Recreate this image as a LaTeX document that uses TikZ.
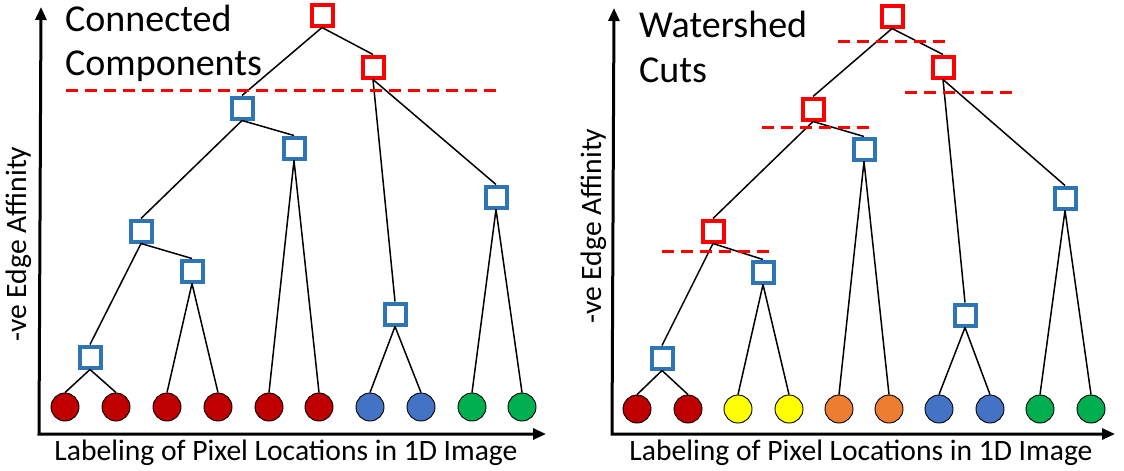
\documentclass[tikz,border=0pt]{standalone}
\usepackage{fontspec}
\setmainfont{Carlito}
\usetikzlibrary{arrows.meta}
\definecolor{cutred}{HTML}{FF0000}
\definecolor{nodeblue}{HTML}{2E75B6}
\definecolor{pixred}{HTML}{C00000}
\definecolor{pixblue}{HTML}{4472C4}
\definecolor{pixgreen}{HTML}{00B050}
\definecolor{pixyellow}{HTML}{FFFF00}
\definecolor{pixorange}{HTML}{ED7D31}
\tikzset{
  merge/.style={draw=#1, line width=4pt, fill=white, minimum size=21pt, inner sep=0pt, outer sep=2pt},
  pixel/.style={circle, draw=black, line width=0.9pt, fill=#1, minimum size=28pt, inner sep=0pt},
  link/.style={line width=1.5pt},
  cut/.style={cutred, line width=3pt, dash pattern=on 12pt off 7pt},
  axis/.style={line width=3pt, {Triangle[length=13pt,width=11pt]}-{Triangle[length=13pt,width=11pt]}},
  title/.style={font=\fontsize{38}{44}\selectfont, anchor=base west, inner sep=0pt},
  axlabel/.style={font=\fontsize{29.6}{35}\selectfont, anchor=base, inner sep=0pt}
}
\begin{document}
\begin{tikzpicture}[x=1pt,y=-1pt]
 	\useasboundingbox (0,0) rectangle (1124,471);
 	% connected components
 	\coordinate (oL) at (39,434);
 	\coordinate (yL) at (41,7);
 	\coordinate (xL) at (546,434);
 	\draw[axis] (yL) -- (oL) -- (xL);
 	\node[title] (tL1) at (65,31) {Connected};
 	\node[title] (tL2) at (65,75) {Components};
 	\node[axlabel] (xlabL) at (286,460) {Labeling of Pixel Locations in 1D Image};
 	\node[axlabel, rotate=90] (ylabL) at (26,244) {-ve Edge Affinity};
 	\foreach \i/\x/\c in {1/65/pixred, 2/116/pixred, 3/167/pixred, 4/218/pixred, 5/269/pixred,
 		6/319/pixred, 7/370/pixblue, 8/421/pixblue, 9/472/pixgreen, 10/522/pixgreen}
 		\node[pixel=\c] (p\i) at (\x,407) {};
 	\foreach \i/\x/\y/\c in {1/322/15/cutred, 2/373/67/cutred, 3/242/108/nodeblue, 4/294/148/nodeblue,
 		5/496/197/nodeblue, 6/141/231/nodeblue, 7/192/271/nodeblue, 8/395/314/nodeblue, 9/90/357/nodeblue}
 		\node[merge=\c] (m\i) at (\x,\y) {};
 	\foreach \s/\t in {1/3,1/2,2/8,2/5,3/6,3/4,6/9,6/7}
 		\draw[link] (m\s.south) -- (m\t.north);
 	\foreach \s/\t in {9/1,9/2,7/3,7/4,4/5,4/6,8/7,8/8,5/9,5/10}
 		\draw[link] (m\s.south) -- (p\t.north);
 	\draw[cut] (66,90) -- (498,90);
 	% watershed cuts
 	\coordinate (oR) at (612,434);
 	\coordinate (yR) at (614,8);
 	\coordinate (xR) at (1115,434);
 	\draw[axis] (yR) -- (oR) -- (xR);
 	\node[title] (tR1) at (639,37) {Watershed};
 	\node[title] (tR2) at (639,82) {Cuts};
 	\node[axlabel] (xlabR) at (861,460) {Labeling of Pixel Locations in 1D Image};
 	\node[axlabel, rotate=90] (ylabR) at (601,226) {-ve Edge Affinity};
 	\foreach \i/\x/\c in {1/637/pixred, 2/688/pixred, 3/738/pixyellow, 4/789/pixyellow, 5/839/pixorange,
 		6/889/pixorange, 7/939/pixblue, 8/990/pixblue, 9/1040/pixgreen, 10/1091/pixgreen}
 		\node[pixel=\c] (q\i) at (\x,409) {};
 	\foreach \i/\x/\y/\c in {1/892/16/cutred, 2/943/67/cutred, 3/813/109/cutred, 4/864/149/nodeblue,
 		5/1065/198/nodeblue, 6/713/231/cutred, 7/763/272/nodeblue, 8/965/315/nodeblue, 9/662/358/nodeblue}
 		\node[merge=\c] (w\i) at (\x,\y) {};
 	\foreach \s/\t in {1/3,1/2,2/8,2/5,3/6,3/4,6/9,6/7}
 		\draw[link] (w\s.south) -- (w\t.north);
 	\foreach \s/\t in {9/1,9/2,7/3,7/4,4/5,4/6,8/7,8/8,5/9,5/10}
 		\draw[link] (w\s.south) -- (q\t.north);
 	\draw[cut] (838,41) -- (949,41);
 	\draw[cut] (905,92) -- (1017,92);
 	\draw[cut] (762,127) -- (874,127);
 	\draw[cut] (662,251) -- (774,251);
\end{tikzpicture}
\end{document}
